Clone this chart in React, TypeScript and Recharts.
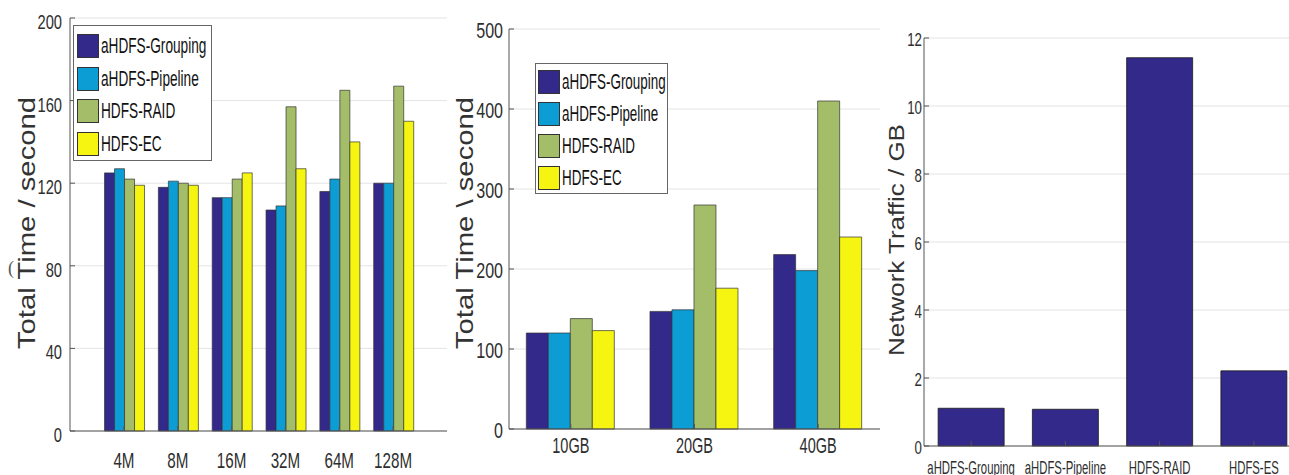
import { BarChart, Bar, XAxis, YAxis, CartesianGrid, Legend } from "recharts";

const SIZE_CATS = ["4M", "8M", "16M", "32M", "64M", "128M"];
const SIZE_GROUPING = [125, 118, 113, 107, 116, 120];
const SIZE_PIPELINE = [127, 121, 113, 109, 122, 120];
const SIZE_RAID = [122, 120, 122, 157, 165, 167];
const SIZE_EC = [119, 119, 125, 127, 140, 150];
const SIZE_TICKS = [0, 40, 80, 120, 160, 200];

const VOL_CATS = ["10GB", "20GB", "40GB"];
const VOL_GROUPING = [120, 147, 218];
const VOL_PIPELINE = [120, 149, 198];
const VOL_RAID = [138, 280, 410];
const VOL_EC = [123, 176, 240];
const VOL_TICKS = [0, 100, 200, 300, 400, 500];

const TRAFFIC_CATS = ["aHDFS-Grouping", "aHDFS-Pipeline", "HDFS-RAID", "HDFS-ES"];
const TRAFFIC_GB = [1.11, 1.08, 11.42, 2.21];
const TRAFFIC_TICKS = [0, 2, 4, 6, 8, 10, 12];

const SERIES = [
  { key: "grouping", name: "aHDFS-Grouping", color: "#33298a" },
  { key: "pipeline", name: "aHDFS-Pipeline", color: "#0b9dd3" },
  { key: "raid", name: "HDFS-RAID", color: "#a3bd69" },
  { key: "ec", name: "HDFS-EC", color: "#f5f511" },
];

const sizeData = SIZE_CATS.map((name, i) => ({
  name,
  grouping: SIZE_GROUPING[i],
  pipeline: SIZE_PIPELINE[i],
  raid: SIZE_RAID[i],
  ec: SIZE_EC[i],
}));

const volData = VOL_CATS.map((name, i) => ({
  name,
  grouping: VOL_GROUPING[i],
  pipeline: VOL_PIPELINE[i],
  raid: VOL_RAID[i],
  ec: VOL_EC[i],
}));

const trafficData = TRAFFIC_CATS.map((name, i) => ({ name, traffic: TRAFFIC_GB[i] }));

const FONT = "Arial, 'Liberation Sans', Helvetica, sans-serif";
const AXIS = "#555";
const GRID = "#e4e4e4";
const TICK_IN = -5; // matlab style ticks pointing into the box

// matlab export is squashed horizontally, so labels get a scaleX
function SqueezedTick(props: any) {
  const { x, y, payload, anchor, fs, sx, dy } = props;
  return (
    <text
      transform={`translate(${x},${y}) scale(${sx},1)`}
      textAnchor={anchor}
      fontSize={fs}
      dy={dy}
      fill="#2e2e2e"
      fontFamily={FONT}
    >
      {payload.value}
    </text>
  );
}

const noTick = () => <g />;

function BoxLegend({ width, height, pad, rowH, sx }: any) {
  return (
    <div
      style={{
        width,
        height,
        boxSizing: "border-box",
        border: "1px solid #666",
        background: "#fff",
        padding: pad,
      }}
    >
      {SERIES.map((s) => (
        <div key={s.key} style={{ display: "flex", alignItems: "center", height: rowH }}>
          <span
            style={{
              width: 22,
              height: 24,
              flex: "none",
              background: s.color,
              border: "1px solid #333",
              boxSizing: "border-box",
            }}
          />
          <span
            style={{
              marginLeft: 2,
              fontSize: 22,
              fontFamily: FONT,
              color: "#111",
              whiteSpace: "nowrap",
              display: "inline-block",
              transform: `scaleX(${sx})`,
              transformOrigin: "left center",
            }}
          >
            {s.name}
          </span>
        </div>
      ))}
    </div>
  );
}

function YLabel({ text, cx, cy, fs, stretch }: any) {
  return (
    <div
      style={{
        position: "absolute",
        left: cx,
        top: cy,
        fontSize: fs,
        fontFamily: FONT,
        color: "#333",
        whiteSpace: "nowrap",
        lineHeight: 1,
        transform: `translate(-50%,-50%) rotate(-90deg) scale(${stretch},1)`,
      }}
    >
      {text}
    </div>
  );
}

export default function App() {
  return (
    <div
      style={{
        position: "absolute",
        left: 0,
        top: 0,
        width: 1289,
        height: 475,
        overflow: "hidden",
        background: "#fff",
      }}
    >
      {/* fragments of the caption line above, cut off by the crop */}
      <div style={{ position: "absolute", left: -1, top: -29, fontSize: 28, lineHeight: "28px", fontFamily: "'Liberation Serif', serif" }}>p</div>
      <div style={{ position: "absolute", left: 60, top: -29, fontSize: 28, lineHeight: "28px", fontFamily: "'Liberation Serif', serif" }}>y</div>

      <div style={{ position: "absolute", left: 0, top: 0 }}>
        <BarChart
          width={460}
          height={475}
          data={sizeData}
          margin={{ top: 18, right: 13, left: 30, bottom: 0 }}
          barCategoryGap="14%"
          barGap={0}
        >
          <CartesianGrid vertical={false} stroke={GRID} strokeWidth={1} />
          <XAxis
            dataKey="name"
            height={44}
            padding={{ left: 27, right: 27 }}
            stroke={AXIS}
            tickSize={TICK_IN}
            tickMargin={26}
            interval={0}
            tick={(p: any) => <SqueezedTick {...p} anchor="middle" fs={22} sx={0.69} dy="0.71em" />}
          />
          <XAxis
            xAxisId="top"
            dataKey="name"
            orientation="top"
            height={0}
            padding={{ left: 27, right: 27 }}
            stroke={AXIS}
            tickSize={TICK_IN}
            interval={0}
            tick={noTick}
          />
          <YAxis
            width={40}
            domain={[0, 200]}
            ticks={SIZE_TICKS}
            stroke={AXIS}
            tickSize={TICK_IN}
            tickMargin={13}
            interval={0}
            tick={(p: any) => <SqueezedTick {...p} anchor="end" fs={21} sx={0.7} dy={11} />}
          />
          <YAxis
            yAxisId="r"
            orientation="right"
            width={0}
            domain={[0, 200]}
            ticks={SIZE_TICKS}
            stroke={AXIS}
            tickSize={TICK_IN}
            tick={noTick}
          />
          <Legend
            layout="vertical"
            align="center"
            verticalAlign="middle"
            wrapperStyle={{ left: 73, top: 25, width: 139, height: 136 }}
            content={() => <BoxLegend width={139} height={136} pad="4px 0 0 3px" rowH={32.5} sx={0.62} />}
          />
          {SERIES.map((s) => (
            <Bar
              key={s.key}
              dataKey={s.key}
              name={s.name}
              fill={s.color}
              stroke="#333"
              strokeWidth={0.7}
              isAnimationActive={false}
            />
          ))}
        </BarChart>
      </div>
      <div style={{ position: "absolute", left: 8, top: 258, fontSize: 18, fontFamily: "'Liberation Serif', serif", color: "#555" }}>(</div>
      <YLabel text="Total Time / second" cx={27} cy={223} fs={24} stretch={1.22} />

      <div style={{ position: "absolute", left: 450, top: 0 }}>
        <BarChart
          width={440}
          height={475}
          data={volData}
          margin={{ top: 29, right: 10, left: 9, bottom: 0 }}
          barCategoryGap="14%"
          barGap={0}
        >
          <CartesianGrid vertical={false} stroke={GRID} strokeWidth={1} />
          <XAxis
            dataKey="name"
            height={46}
            stroke={AXIS}
            tickSize={TICK_IN}
            tickMargin={13}
            interval={0}
            tick={(p: any) => <SqueezedTick {...p} anchor="middle" fs={22} sx={0.66} dy="0.71em" />}
          />
          <XAxis
            xAxisId="top"
            dataKey="name"
            orientation="top"
            height={0}
            stroke={AXIS}
            tickSize={TICK_IN}
            interval={0}
            tick={noTick}
          />
          <YAxis
            width={50}
            domain={[0, 500]}
            ticks={VOL_TICKS}
            stroke={AXIS}
            tickSize={TICK_IN}
            tickMargin={11}
            interval={0}
            tick={(p: any) => <SqueezedTick {...p} anchor="end" fs={22} sx={0.73} dy={9} />}
          />
          <YAxis
            yAxisId="r"
            orientation="right"
            width={0}
            domain={[0, 500]}
            ticks={VOL_TICKS}
            stroke={AXIS}
            tickSize={TICK_IN}
            tick={noTick}
          />
          <Legend
            layout="vertical"
            align="center"
            verticalAlign="middle"
            wrapperStyle={{ left: 85, top: 63, width: 133, height: 131 }}
            content={() => <BoxLegend width={133} height={131} pad="2px 0 0 2px" rowH={32} sx={0.61} />}
          />
          {SERIES.map((s) => (
            <Bar
              key={s.key}
              dataKey={s.key}
              name={s.name}
              fill={s.color}
              stroke="#333"
              strokeWidth={0.7}
              isAnimationActive={false}
            />
          ))}
        </BarChart>
      </div>
      <YLabel text="Total Time \ second" cx={465} cy={223} fs={24} stretch={1.22} />

      <div style={{ position: "absolute", left: 880, top: 0 }}>
        <BarChart
          width={440}
          height={475}
          data={trafficData}
          margin={{ top: 38, right: 19, left: 8, bottom: 0 }}
          barCategoryGap="15%"
        >
          <CartesianGrid vertical={false} stroke={GRID} strokeWidth={1} />
          <XAxis
            dataKey="name"
            height={29}
            stroke={AXIS}
            tickSize={TICK_IN}
            tickMargin={20}
            interval={0}
            tick={(p: any) => <SqueezedTick {...p} anchor="middle" fs={18} sx={0.63} dy="0.71em" />}
          />
          <XAxis
            xAxisId="top"
            dataKey="name"
            orientation="top"
            height={0}
            stroke={AXIS}
            tickSize={TICK_IN}
            interval={0}
            tick={noTick}
          />
          <YAxis
            width={36}
            domain={[0, 12]}
            ticks={TRAFFIC_TICKS}
            stroke={AXIS}
            tickSize={TICK_IN}
            tickMargin={7}
            interval={0}
            tick={(p: any) => <SqueezedTick {...p} anchor="end" fs={19} sx={0.7} dy={7.5} />}
          />
          <Bar
            dataKey="traffic"
            fill="#33298a"
            stroke="#1a1a1a"
            strokeWidth={0.8}
            isAnimationActive={false}
          />
        </BarChart>
      </div>
      <YLabel text="Network Traffic / GB" cx={897} cy={240} fs={22} stretch={1.18} />
    </div>
  );
}
